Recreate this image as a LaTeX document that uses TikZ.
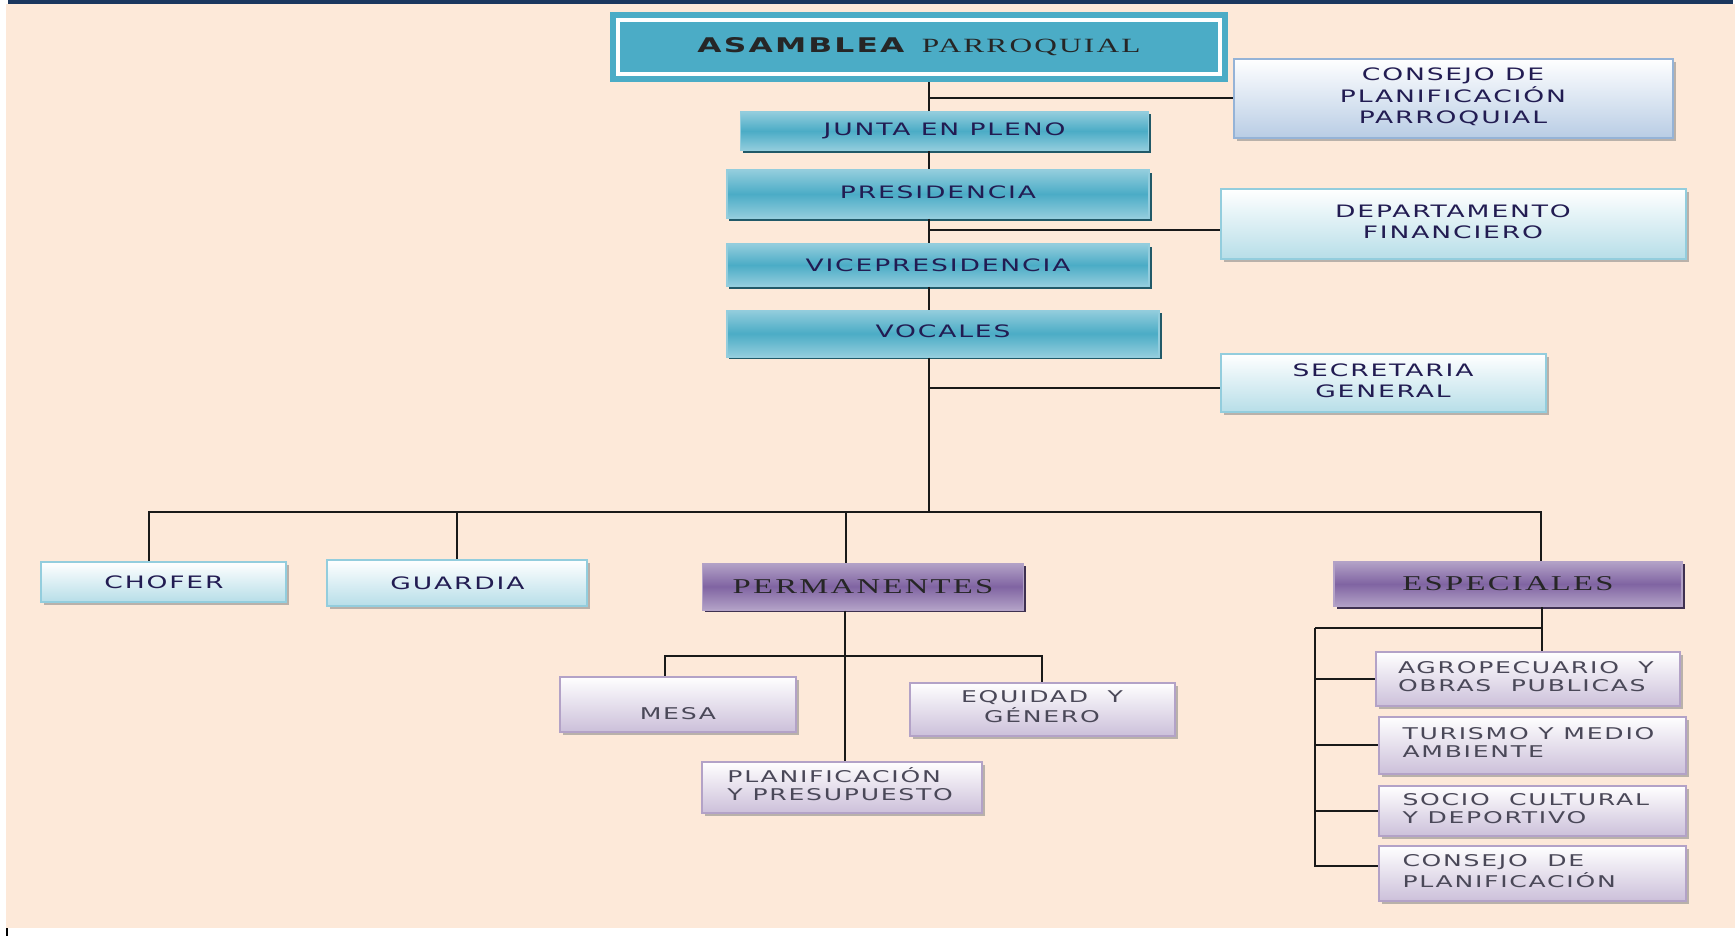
\documentclass[tikz,border=0pt]{standalone}
\usepackage{fontspec}
\usepackage{graphicx}
\usepackage{tikz}
\usetikzlibrary{shadows}
\setmainfont{DejaVu Sans}
\newfontfamily\boxfont[LetterSpace=7]{DejaVu Sans}
\newfontfamily\serffont[LetterSpace=7]{Liberation Serif}
\newcommand{\wide}[1]{\scalebox{1.55}[1]{#1}}
\newcommand{\pila}[2][c]{\wide{\begin{tabular}{@{}#1@{}}#2\end{tabular}}}
\newcommand{\lbox}[2]{\makebox[#1][l]{#2}}
\definecolor{fondo}{HTML}{FDE9D9}
\definecolor{marino}{HTML}{1B375E}
\definecolor{turq}{HTML}{4BACC6}
\definecolor{turqclaro}{HTML}{93CDDD}
\definecolor{turqosc}{HTML}{215968}
\definecolor{celeste}{HTML}{B7DEE8}
\definecolor{azulgris}{HTML}{B9CDE5}
\definecolor{azulborde}{HTML}{95B3D7}
\definecolor{morado}{HTML}{8064A2}
\definecolor{moradoclaro}{HTML}{B3A2C7}
\definecolor{moradoosc}{HTML}{3F3151}
\definecolor{lila}{HTML}{CCC0DA}
\definecolor{tinta}{HTML}{221C52}
\definecolor{tintagris}{HTML}{4A4858}
\tikzstyle{jefe} = [rectangle, 
minimum width=12.04cm, 
minimum height=1.08cm, 
fill=turq, 
draw=turq, 
line width=0.12cm, 
double=white, 
double distance=0.08cm, 
outer sep=0.16cm, 
text=black!85]
\tikzstyle{cargo} = [rectangle, 
text centered, 
draw=turqclaro, 
line width=0.03cm, 
top color=turqclaro, 
bottom color=turqclaro, 
middle color=turq, 
drop shadow={shadow xshift=0.05cm, shadow yshift=-0.05cm, fill=turqosc, opacity=1}, 
font=\boxfont\fontsize{9.75}{12}\selectfont, 
text=tinta]
\tikzstyle{apoyo} = [rectangle, 
text centered, 
draw=turqclaro, 
line width=0.04cm, 
top color=white, 
bottom color=celeste, 
drop shadow={shadow xshift=0.06cm, shadow yshift=-0.06cm, fill=black!45, opacity=0.6}, 
font=\boxfont\fontsize{9.75}{12}\selectfont, 
text=tinta]
\tikzstyle{consejo} = [apoyo, draw=azulborde, bottom color=azulgris]
\tikzstyle{comision} = [rectangle, 
text centered, 
draw=moradoclaro, 
line width=0.03cm, 
top color=moradoclaro, 
bottom color=moradoclaro, 
middle color=morado, 
drop shadow={shadow xshift=0.05cm, shadow yshift=-0.05cm, fill=moradoosc, opacity=1}, 
font=\serffont\fontsize{12}{14}\selectfont, 
text=black!85]
\tikzstyle{sub} = [apoyo, 
draw=moradoclaro, 
bottom color=lila, 
font=\boxfont\fontsize{9.2}{10.5}\selectfont, 
text=tintagris]
\tikzstyle{conector} = [draw=black!90, line width=0.04cm]

\begin{document}
\begin{tikzpicture}[node distance=1cm]

\useasboundingbox (-18.38,0.94) rectangle (16.32,-17.78);
\fill[white] (-18.38,0.94) rectangle (16.32,-17.78);
\fill[marino] (-18.22,0.94) rectangle (16.28,0.86);
\fill[fondo] (-18.26,0.86) rectangle (16.32,-17.62);
\draw[line width=0.03cm] (-18.24,-17.62) -- (-18.24,-17.78);

\node (asamblea) [jefe] {\wide{{\boxfont\bfseries\fontsize{11.5}{13}\selectfont ASAMBLEA}\ \ {\serffont\fontsize{11.5}{13}\selectfont PARROQUIAL}}};
\node (junta) [cargo, below of=asamblea, xshift=0.51cm, yshift=-0.68cm, minimum width=8.16cm, minimum height=0.77cm] {\wide{JUNTA EN PLENO}};
\node (presidencia) [cargo, below of=junta, xshift=-0.13cm, yshift=-0.26cm, minimum width=8.44cm, minimum height=0.96cm] {\raisebox{0.08cm}{\wide{PRESIDENCIA}}};
\node (vice) [cargo, below of=presidencia, yshift=-0.42cm, minimum width=8.44cm, minimum height=0.84cm] {\wide{VICEPRESIDENCIA}};
\node (vocales) [cargo, below of=vice, xshift=0.10cm, yshift=-0.37cm, minimum width=8.64cm, minimum height=0.93cm] {\raisebox{0.08cm}{\wide{VOCALES}}};

\node (cpp) [consejo, below of=asamblea, xshift=10.68cm, yshift=-0.02cm, minimum width=8.78cm, minimum height=1.58cm] {\pila{CONSEJO DE\\PLANIFICACIÓN\\PARROQUIAL}};
\node (financiero) [apoyo, below of=cpp, yshift=-1.52cm, minimum width=9.30cm, minimum height=1.40cm] {\raisebox{0.1cm}{\pila{DEPARTAMENTO\\FINANCIERO}}};
\node (secretaria) [apoyo, below of=financiero, xshift=-1.40cm, yshift=-2.18cm, minimum width=6.50cm, minimum height=1.16cm] {\pila{SECRETARIA\\GENERAL}};

\coordinate (tronco) at (0.2,0);
\coordinate (barra) at (0.2,-9.30);
\draw[conector] (tronco |- asamblea.south) -- (tronco |- junta.north);
\draw[conector] (tronco |- cpp.west) -- (cpp.west);
\draw[conector] (tronco |- junta.south) -- (tronco |- presidencia.north);
\draw[conector] (tronco |- presidencia.south) -- (tronco |- vice.north);
\draw[conector] (tronco |- financiero.west) ++(0,-0.12) -- ([yshift=-0.12cm]financiero.west);
\draw[conector] (tronco |- vice.south) -- (tronco |- vocales.north);
\draw[conector] (tronco |- vocales.south) -- (barra);
\draw[conector] (tronco |- secretaria.west) ++(0,-0.1) -- ([yshift=-0.1cm]secretaria.west);

\node (chofer) [apoyo, below of=vocales, xshift=-15.58cm, yshift=-3.97cm, minimum width=4.90cm, minimum height=0.80cm] {\wide{CHOFER}};
\node (guardia) [apoyo, below of=vocales, xshift=-9.71cm, yshift=-3.99cm, minimum width=5.20cm, minimum height=0.92cm] {\wide{GUARDIA}};
\node (permanentes) [comision, below of=vocales, xshift=-1.60cm, yshift=-4.06cm, minimum width=6.42cm, minimum height=0.93cm] {\wide{PERMANENTES}};
\node (especiales) [comision, below of=vocales, xshift=11.30cm, yshift=-4.01cm, minimum width=6.96cm, minimum height=0.90cm] {\wide{ESPECIALES}};
\draw[conector] (barra) -| ([xshift=-0.29cm]chofer.north);
\draw[conector] (barra) -| (guardia);
\draw[conector] (barra) -| ([xshift=-0.35cm]permanentes.north);
\draw[conector] (barra) -| ([xshift=0.66cm]especiales.north);

\node (mesa) [sub, below of=permanentes, xshift=-3.70cm, yshift=-1.35cm, minimum width=4.72cm, minimum height=1.10cm, text height=0.7cm, text depth=0.1cm] {\wide{MESA}};
\node (equidad) [sub, below of=permanentes, xshift=3.58cm, yshift=-1.45cm, minimum width=5.30cm, minimum height=1.06cm] {\pila{EQUIDAD \ Y\\GÉNERO}};
\node (planificacion) [sub, below of=permanentes, xshift=-0.42cm, yshift=-3.01cm, minimum width=5.58cm, minimum height=1.02cm, inner xsep=0.5cm] {\lbox{4.58cm}{\pila[l]{PLANIFICACIÓN\\Y PRESUPUESTO}}};
\coordinate (perm) at (-1.48,-12.18);
\draw[conector] (perm |- permanentes.south) -- (perm |- planificacion.north);
\draw[conector] (perm) -| ([xshift=-0.26cm]mesa.north);
\draw[conector] (perm) -| (equidad);

\node (agro) [sub, below of=especiales, xshift=0.40cm, yshift=-0.90cm, minimum width=6.08cm, minimum height=1.08cm, inner xsep=0.44cm] {\lbox{5.20cm}{\pila[l]{AGROPECUARIO \ Y\\OBRAS \ PUBLICAS}}};
\node (turismo) [sub, below of=agro, xshift=0.08cm, yshift=-0.32cm, minimum width=6.14cm, minimum height=1.14cm, inner xsep=0.48cm] {\lbox{5.18cm}{\pila[l]{TURISMO Y MEDIO\\AMBIENTE}}};
\node (socio) [sub, below of=turismo, yshift=-0.32cm, minimum width=6.14cm, minimum height=1.00cm, inner xsep=0.48cm] {\lbox{5.18cm}{\pila[l]{SOCIO \ CULTURAL\\Y DEPORTIVO}}};
\node (cplan) [sub, below of=socio, yshift=-0.25cm, minimum width=6.14cm, minimum height=1.10cm, inner xsep=0.48cm] {\lbox{5.18cm}{\pila[l]{CONSEJO \ DE\\PLANIFICACIÓN}}};
\coordinate (esp) at (12.45,-11.61);
\coordinate (espizq) at (7.92,-11.61);
\draw[conector] (esp |- especiales.south) -- (esp |- agro.north);
\draw[conector] (esp) -- (espizq);
\draw[conector] (espizq) |- (agro);
\draw[conector] (espizq) |- (turismo);
\draw[conector] (espizq) |- (socio);
\draw[conector] (espizq) |- ([yshift=0.15cm]cplan.west);

\end{tikzpicture}
\end{document}
